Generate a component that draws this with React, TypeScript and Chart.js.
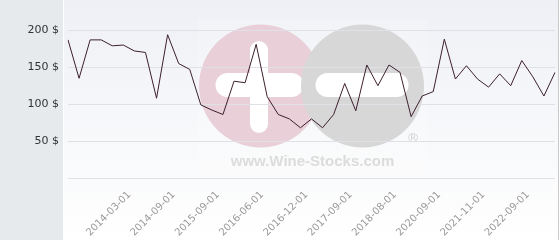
import React, { useEffect, useRef } from "react";
import { Chart, registerables } from "chart.js";

Chart.register(...registerables);

const labels: string[] = [
  "2013-09-01", "2013-10-01", "2013-11-01", "2013-12-01", "2014-01-01",
  "2014-03-01", "2014-04-01", "2014-06-01", "2014-07-01", "2014-09-01",
  "2014-11-01", "2015-01-01", "2015-05-01", "2015-09-01", "2015-11-01",
  "2016-01-01", "2016-03-01", "2016-06-01", "2016-08-01", "2016-09-01",
  "2016-11-01", "2016-12-01", "2017-02-01", "2017-04-01", "2017-06-01",
  "2017-09-01", "2017-11-01", "2018-02-01", "2018-05-01", "2018-08-01",
  "2018-12-01", "2019-05-01", "2020-01-01", "2020-09-01", "2020-12-01",
  "2021-03-01", "2021-07-01", "2021-11-01", "2022-01-01", "2022-03-01",
  "2022-06-01", "2022-09-01", "2022-11-01", "2023-02-01", "2023-05-01",
];

const prices: number[] = [
  187, 135, 187, 187, 179, 180, 172, 170, 108, 194,
  155, 147, 99, 92, 86, 131, 129, 181, 110, 86,
  80, 68, 80, 68, 86, 128, 91, 153, 125, 153,
  143, 83, 111, 117, 188, 134, 152, 134, 123, 141,
  125, 159, 137, 111, 143,
];

const yTicks: number[] = [0, 50, 100, 150, 200];
const yMax = 241;
const firstShownLabel = 5;
const labelEvery = 4;

const roundRect = (ctx: CanvasRenderingContext2D, x: number, y: number, w: number, h: number, r: number) => {
  ctx.beginPath();
  ctx.moveTo(x + r, y);
  ctx.lineTo(x + w - r, y);
  ctx.arc(x + w - r, y + r, r, -Math.PI / 2, 0);
  ctx.lineTo(x + w, y + h - r);
  ctx.arc(x + w - r, y + h - r, r, 0, Math.PI / 2);
  ctx.lineTo(x + r, y + h);
  ctx.arc(x + r, y + h - r, r, Math.PI / 2, Math.PI);
  ctx.lineTo(x, y + r);
  ctx.arc(x + r, y + r, r, Math.PI, Math.PI * 1.5);
  ctx.closePath();
  ctx.fill();
};

const backgroundPlugin = {
  id: "bgWatermark",
  beforeDraw(chart: any) {
    const ctx: CanvasRenderingContext2D = chart.ctx;
    const W = chart.width;
    const H = chart.height;
    const ca = chart.chartArea;
    ctx.save();
    ctx.fillStyle = "#e6eaed";
    ctx.fillRect(0, 0, 63, H);
    ctx.fillStyle = "#ffffff";
    ctx.fillRect(63, 0, 1, H);
    const g = ctx.createLinearGradient(0, 0, 0, H);
    g.addColorStop(0, "#eef0f5");
    g.addColorStop(1, "#ffffff");
    ctx.fillStyle = g;
    ctx.fillRect(64, 0, W - 66, H);
    ctx.fillStyle = "#c9c9c9";
    ctx.fillRect(W - 2, 0, 1, H);

    const cx = (ca.left + ca.right) / 2;
    const cy = 86;
    const r = 61.5;
    ctx.fillStyle = "rgba(255,255,255,0.18)";
    ctx.fillRect(cx - 114, 20, 230, 154);
    ctx.fillStyle = "#e9cfd7";
    ctx.beginPath();
    ctx.arc(cx - 51, cy, r, 0, Math.PI * 2);
    ctx.fill();
    ctx.fillStyle = "#ffffff";
    roundRect(ctx, cx - 61.5, 41, 18, 92, 9);
    roundRect(ctx, cx - 96, 73, 88, 24, 12);
    ctx.fillStyle = "#d7d7d7";
    ctx.beginPath();
    ctx.arc(cx + 51, cy, r, 0, Math.PI * 2);
    ctx.fill();
    ctx.fillStyle = "#ffffff";
    roundRect(ctx, cx + 4, 73, 93, 24, 12);
    ctx.fillStyle = "#d3d3d3";
    ctx.font = "13px 'DejaVu Sans'";
    ctx.textAlign = "center";
    ctx.textBaseline = "middle";
    ctx.fillText("\u00AE", cx + 101.5, 139);
    ctx.fillStyle = "#dcdcdc";
    ctx.font = "bold 15px 'Liberation Sans'";
    ctx.textBaseline = "alphabetic";
    ctx.fillText("www.Wine-Stocks.com", cx + 1, 166);
    ctx.restore();
  },
};

export default function App() {
  const canvasRef = useRef<HTMLCanvasElement | null>(null);

  useEffect(() => {
    if (!canvasRef.current) return;
    const chart = new Chart(canvasRef.current, {
      type: "line",
      data: {
        labels,
        datasets: [
          {
            data: prices,
            borderColor: "#3d1f2e",
            borderWidth: 1,
            pointRadius: 0,
            tension: 0,
            fill: false,
          },
        ],
      },
      options: {
        responsive: false,
        animation: false,
        devicePixelRatio: 1,
        layout: { padding: { left: 0, right: 5, top: 0, bottom: 0 } },
        plugins: { legend: { display: false }, tooltip: { enabled: false } },
        scales: {
          x: {
            offset: false,
            grid: { display: false },
            border: { display: false },
            afterFit: (scale: any) => {
              scale.height = 62;
              scale.paddingLeft = 0;
              scale.paddingRight = 0;
            },
            ticks: {
              autoSkip: false,
              minRotation: 45,
              maxRotation: 45,
              padding: 3,
              labelOffset: 6,
              color: "#9a9a9a",
              font: { family: "'DejaVu Sans'", size: 10 },
              callback: (_v: any, i: number) =>
                i >= firstShownLabel && (i - firstShownLabel) % labelEvery === 0 ? labels[i] : "",
            },
          },
          y: {
            min: 0,
            max: yMax,
            afterFit: (scale: any) => {
              scale.width = 68;
              scale.paddingTop = 0;
              scale.paddingBottom = 0;
            },
            afterBuildTicks: (scale: any) => {
              scale.ticks = yTicks.map((v) => ({ value: v }));
            },
            grid: { color: "#dfe1e6", lineWidth: 1, drawTicks: false },
            border: { display: false },
            ticks: {
              padding: 9,
              color: "#333333",
              font: { family: "'DejaVu Sans'", size: 11 },
              callback: (v: any) => (v === 0 ? "" : v + " $"),
            },
          },
        },
      },
      plugins: [backgroundPlugin],
    });
    return () => chart.destroy();
  }, []);

  return (
    <div style={{ position: "absolute", left: 0, top: 0, width: 560, height: 240 }}>
      <canvas ref={canvasRef} width={560} height={240} style={{ display: "block" }} />
    </div>
  );
}
